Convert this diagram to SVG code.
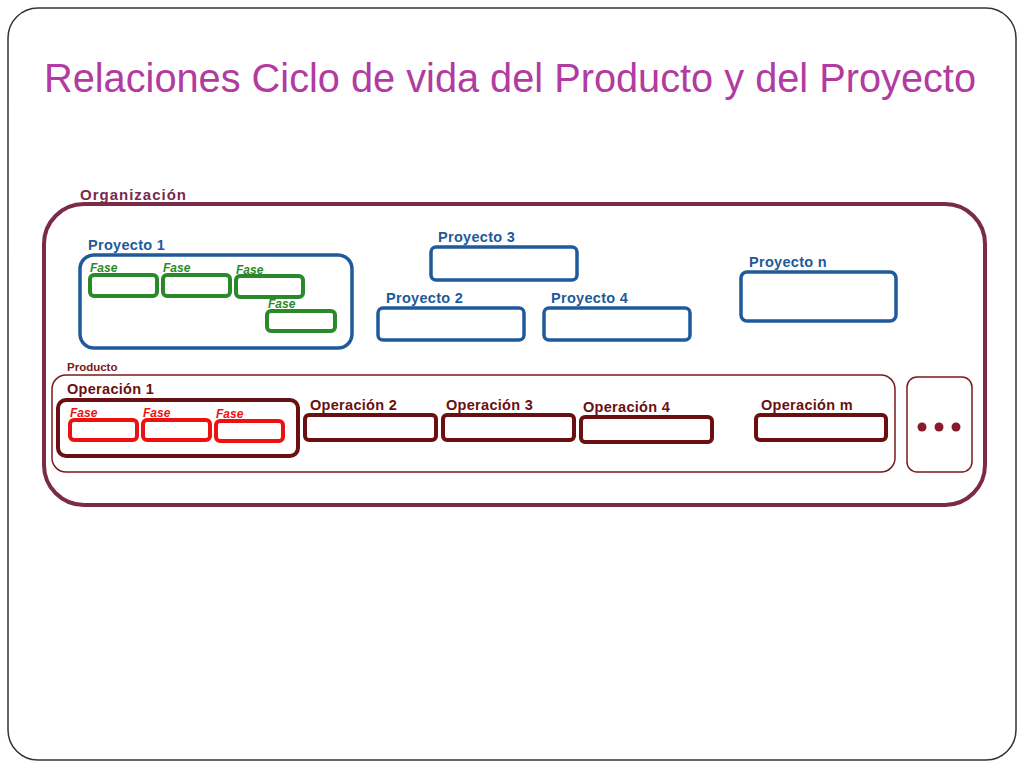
<svg xmlns="http://www.w3.org/2000/svg" width="1024" height="768" viewBox="0 0 1024 768">
<style>
text{font-family:"Liberation Sans",Arial,sans-serif;font-weight:bold}
.pj{fill:none;stroke:#1f5a9a;stroke-width:3.5}
.pjt{fill:#1f5a9a;font-size:14.5px;letter-spacing:0.3px}
.gf{fill:#fff;stroke:#2a8a2a;stroke-width:4}
.gt{fill:#2a8a2a;font-size:12px;font-style:italic}
.rf{fill:#fff;stroke:#ee1111;stroke-width:4}
.rt{fill:#ee1111;font-size:12px;font-style:italic}
.op{fill:none;stroke:#6a1010;stroke-width:4}
.opt{fill:#6a1010;font-size:14.5px;letter-spacing:0.3px}
</style>
<rect x="8" y="8" width="1008" height="752" rx="30" fill="#fff" stroke="#333" stroke-width="1.5"/>
<text x="44" y="92" font-size="40" fill="#b23aa0" textLength="932" lengthAdjust="spacingAndGlyphs" style="font-weight:normal">Relaciones Ciclo de vida del Producto y del Proyecto</text>
<g id="organizacion">
<text x="80" y="200" font-size="15" fill="#7a2a4a" textLength="106">Organización</text>
<rect x="44" y="204" width="941" height="301" rx="40" fill="none" stroke="#7a2a4a" stroke-width="4"/>
</g>
<g id="proyecto1">
<text class="pjt" x="88" y="250">Proyecto 1</text>
<rect class="pj" x="80" y="255" width="272" height="93" rx="14"/>
<rect class="gf" x="90" y="275" width="67" height="21" rx="4"/><text class="gt" x="90" y="272">Fase</text>
<rect class="gf" x="163" y="275" width="67" height="21" rx="4"/><text class="gt" x="163" y="272">Fase</text>
<rect class="gf" x="236" y="276" width="67" height="21" rx="4"/><text class="gt" x="236" y="274">Fase</text>
<rect class="gf" x="267" y="311" width="68" height="20" rx="4"/><text class="gt" x="268" y="308">Fase</text>
</g>
<g id="proyecto3"><text class="pjt" x="438" y="242">Proyecto 3</text><rect class="pj" x="431" y="247" width="146" height="33" rx="5"/></g>
<g id="proyecto2"><text class="pjt" x="386" y="303">Proyecto 2</text><rect class="pj" x="378" y="308" width="146" height="32" rx="5"/></g>
<g id="proyecto4"><text class="pjt" x="551" y="303">Proyecto 4</text><rect class="pj" x="544" y="308" width="146" height="32" rx="5"/></g>
<g id="proyecton"><text class="pjt" x="749" y="267">Proyecto n</text><rect class="pj" x="741" y="272" width="155" height="49" rx="6"/></g>
<g id="producto">
<text x="67" y="371" font-size="11.5" fill="#7a1a1a">Producto</text>
<rect x="52" y="375" width="843" height="97" rx="14" fill="none" stroke="#7a1a1a" stroke-width="1.5"/>
</g>
<g id="operacion1">
<text class="opt" x="67" y="394">Operación 1</text>
<rect class="op" x="58" y="400" width="240" height="56" rx="8"/>
<rect class="rf" x="70" y="420" width="67" height="20" rx="4"/><text class="rt" x="70" y="417">Fase</text>
<rect class="rf" x="143" y="420" width="67" height="20" rx="4"/><text class="rt" x="143" y="417">Fase</text>
<rect class="rf" x="216" y="421" width="67" height="20" rx="4"/><text class="rt" x="216" y="418">Fase</text>
</g>
<g id="operacion2"><text class="opt" x="310" y="410">Operación 2</text><rect class="op" x="305" y="415" width="131" height="25" rx="4"/></g>
<g id="operacion3"><text class="opt" x="446" y="410">Operación 3</text><rect class="op" x="443" y="415" width="131" height="25" rx="4"/></g>
<g id="operacion4"><text class="opt" x="583" y="412">Operación 4</text><rect class="op" x="581" y="417" width="131" height="25" rx="4"/></g>
<g id="operacionm"><text class="opt" x="761" y="410">Operación m</text><rect class="op" x="756" y="415" width="130" height="25" rx="4"/></g>
<g id="mas">
<rect x="907" y="377" width="65" height="95" rx="10" fill="none" stroke="#7a1a1a" stroke-width="1.5"/>
<circle cx="922" cy="427" r="4.5" fill="#8a1a2a"/><circle cx="939" cy="427" r="4.5" fill="#8a1a2a"/><circle cx="956" cy="427" r="4.5" fill="#8a1a2a"/>
</g>
<g id="connectors"/>
</svg>
